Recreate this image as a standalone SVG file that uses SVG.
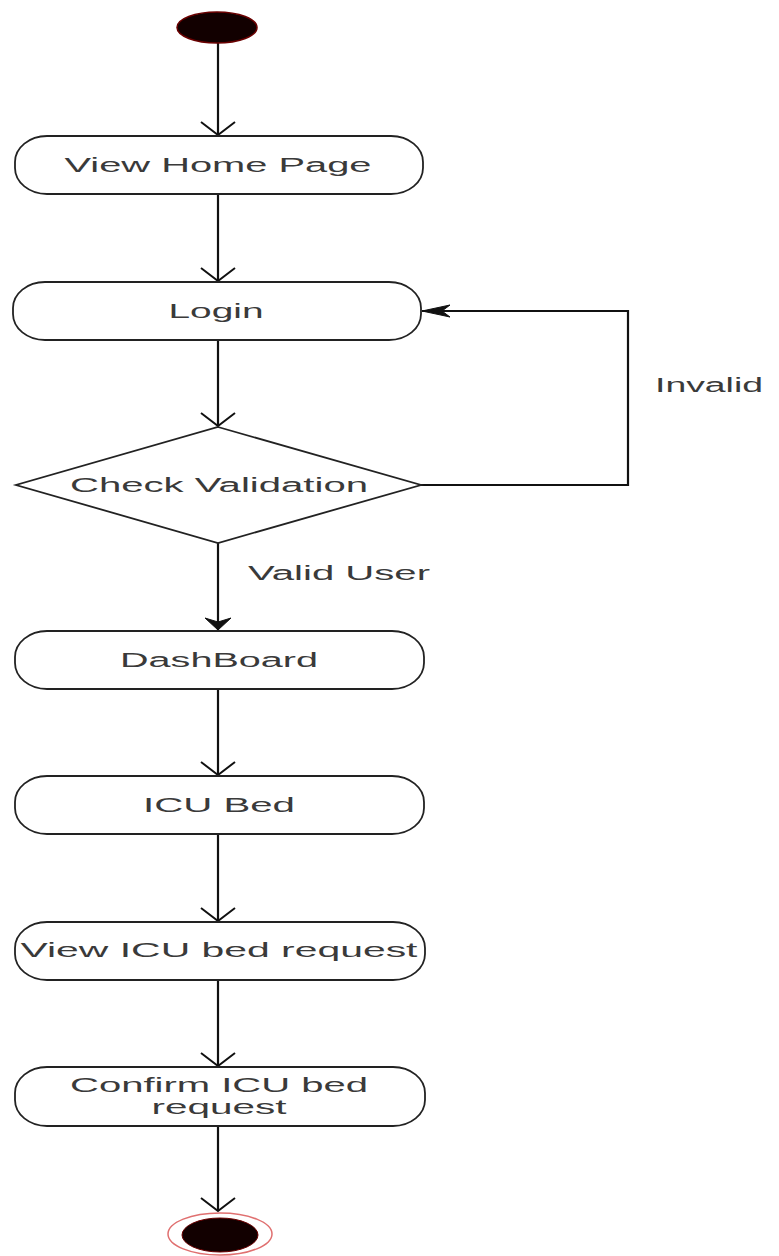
<svg xmlns="http://www.w3.org/2000/svg" width="779" height="1256" viewBox="0 0 779 1256">
<style>
.node{fill:#fff;stroke:#222;stroke-width:1.8}
.lbl{font-family:"Liberation Sans",Arial,sans-serif;font-size:20px;fill:#3a3a3a;text-anchor:middle}
.edge{fill:none;stroke:#111;stroke-width:2.2}
</style>
<defs>
<marker id="open" markerUnits="userSpaceOnUse" viewBox="-14 -18 16 36" refX="0" refY="0" markerWidth="16" markerHeight="36" orient="auto" overflow="visible">
<path d="M-13,-17 L0,0 L-13,17" fill="none" stroke="#111" stroke-width="2"/>
</marker>
<marker id="fillv" markerUnits="userSpaceOnUse" viewBox="-14 -14 16 28" refX="0" refY="0" markerWidth="16" markerHeight="28" orient="auto" overflow="visible">
<path d="M-12,-13 L0,0 L-12,13 L-8,0 Z" fill="#111" stroke="#111" stroke-width="1"/>
</marker>
<marker id="fillh" markerUnits="userSpaceOnUse" viewBox="-30 -8 32 16" refX="0" refY="0" markerWidth="32" markerHeight="16" orient="auto" overflow="visible">
<path d="M-28,-6 L0,0 L-28,6 L-20,0 Z" fill="#111" stroke="#111" stroke-width="1"/>
</marker>
</defs>
<g id="connectors">
<path class="edge" d="M218,43 V135" marker-end="url(#open)"/>
<path class="edge" d="M218,194 V281" marker-end="url(#open)"/>
<path class="edge" d="M218,340 V426" marker-end="url(#open)"/>
<path class="edge" d="M218,543 V630" marker-end="url(#fillv)"/>
<path class="edge" d="M421,485 H628 V311 H422" marker-end="url(#fillh)"/>
<path class="edge" d="M218,689 V775" marker-end="url(#open)"/>
<path class="edge" d="M218,834 V921" marker-end="url(#open)"/>
<path class="edge" d="M218,980 V1066" marker-end="url(#open)"/>
<path class="edge" d="M218,1126 V1211" marker-end="url(#open)"/>
<text class="lbl" x="339" y="580" textLength="182" lengthAdjust="spacingAndGlyphs">Valid User</text>
<text class="lbl" x="709" y="392" textLength="108" lengthAdjust="spacingAndGlyphs">Invalid</text>
</g>
<g id="start">
<ellipse cx="217" cy="27.5" rx="40" ry="15.5" fill="#120000" stroke="#6a0000" stroke-width="1.5"/>
</g>
<g id="viewHome">
<rect class="node" x="15" y="136" width="408" height="58" rx="32" ry="26"/>
<text class="lbl" x="218" y="172" textLength="307" lengthAdjust="spacingAndGlyphs">View Home Page</text>
</g>
<g id="login">
<rect class="node" x="13" y="282" width="408" height="58" rx="32" ry="26"/>
<text class="lbl" x="216" y="318" textLength="95" lengthAdjust="spacingAndGlyphs">Login</text>
</g>
<g id="checkValidation">
<polygon class="node" points="218,427 421,485 218,543 16,485"/>
<text class="lbl" x="219" y="492" textLength="298" lengthAdjust="spacingAndGlyphs">Check Validation</text>
</g>
<g id="dashboard">
<rect class="node" x="15" y="631" width="409" height="58" rx="32" ry="26"/>
<text class="lbl" x="219" y="667" textLength="198" lengthAdjust="spacingAndGlyphs">DashBoard</text>
</g>
<g id="icuBed">
<rect class="node" x="15" y="776" width="409" height="58" rx="32" ry="26"/>
<text class="lbl" x="219" y="812" textLength="152" lengthAdjust="spacingAndGlyphs">ICU Bed</text>
</g>
<g id="viewRequest">
<rect class="node" x="15" y="922" width="410" height="58" rx="32" ry="26"/>
<text class="lbl" x="219" y="957" textLength="397" lengthAdjust="spacingAndGlyphs">View ICU bed request</text>
</g>
<g id="confirmRequest">
<rect class="node" x="15" y="1067" width="410" height="59" rx="32" ry="26"/>
<text class="lbl" x="219" y="1092" textLength="298" lengthAdjust="spacingAndGlyphs">Confirm ICU bed</text>
<text class="lbl" x="219" y="1114" textLength="135" lengthAdjust="spacingAndGlyphs">request</text>
</g>
<g id="end">
<ellipse cx="220" cy="1234" rx="52" ry="21" fill="#fff" stroke="#e07070" stroke-width="1.5"/>
<ellipse cx="220" cy="1235" rx="38" ry="17" fill="#120000" stroke="#6a0000" stroke-width="1"/>
</g>
</svg>
